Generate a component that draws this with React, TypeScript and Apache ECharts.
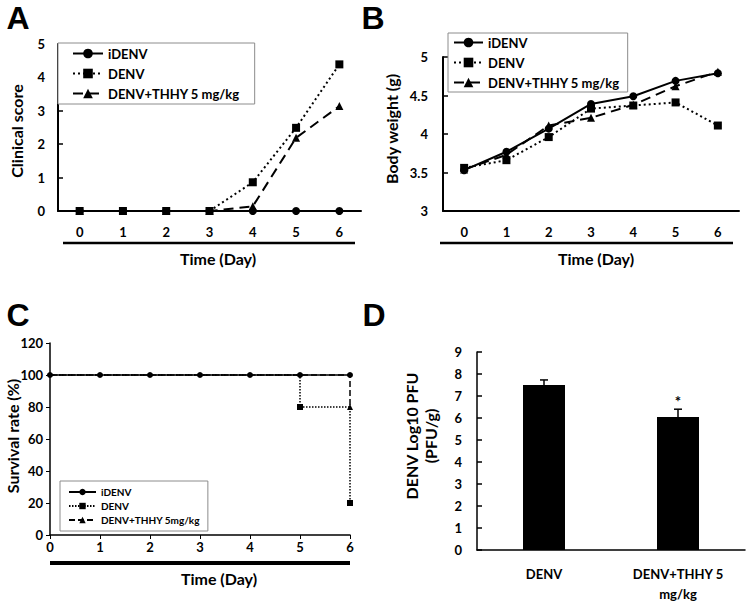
import React, { useEffect, useRef } from 'react';
import * as echarts from 'echarts';

// ---------- data ----------
const days = ['0', '1', '2', '3', '4', '5', '6'];
const groupNames = ['iDENV', 'DENV', 'DENV+THHY 5 mg/kg'];
const survivalGroupNames = ['iDENV', 'DENV', 'DENV+THHY 5mg/kg'];

const clinicalIDENV = [0, 0, 0, 0, 0, 0, 0];
const clinicalDENV = [0, 0, 0, 0, 0.86, 2.49, 4.39];
const clinicalTHHY = [0, 0, 0, 0, 0.14, 2.19, 3.14];

const weightIDENV = [3.53, 3.77, 4.07, 4.39, 4.49, 4.69, 4.79];
const weightDENV = [3.56, 3.66, 3.96, 4.33, 4.37, 4.41, 4.11];
const weightTHHY = [3.54, 3.73, 4.11, 4.21, 4.38, 4.62, 4.81];

const survivalIDENV = [100, 100, 100, 100, 100, 100, 100];
const survivalDENV = [100, 100, 100, 100, 100, 80, 20];
const survivalTHHY = [100, 100, 100, 100, 100, 100, 80];

const virusGroups = ['DENV', 'DENV+THHY 5\nmg/kg'];
const virusTiter = [7.5, 6.05];
const virusError = [0.23, 0.35];
const virusSignificance = ['', '*'];

// ---------- styles ----------
const FONT = 'Lato, "Liberation Sans", sans-serif';
const LETTER_FONT = 'bold 32px "Liberation Sans", Arial, sans-serif';
const BLACK = '#000';

const symbols = ['circle', 'rect', 'triangle'];
const bigLines = [
  { type: 'solid', width: 2 },
  { type: [2, 3], width: 2 },
  { type: [10, 6], width: 2 },
];
const smallLines = [
  { type: 'solid', width: 1.5 },
  { type: [1.5, 1.5], width: 1.5 },
  { type: [6, 3], width: 1.5 },
];

const axisLabel = (margin: number, extra: any = {}) => ({
  margin,
  fontSize: 13,
  fontWeight: 'bold',
  color: BLACK,
  fontFamily: FONT,
  ...extra,
});

const prefixed = (p: string, names: string[]) => names.map((n) => p + ':' + n);

function lineSeries(prefix: string, names: string[], values: number[][], idx: number, lines: any[], size: number, extra: any = {}, dataMap?: (v: number, i: number, s: number) => any) {
  // draw order: iDENV, THHY, DENV (DENV markers on top)
  const order = [0, 2, 1];
  return order.map((s) => ({
    type: 'line',
    name: prefix + ':' + names[s],
    xAxisIndex: idx,
    yAxisIndex: idx,
    data: dataMap ? values[s].map((v, i) => dataMap(v, i, s)) : values[s],
    symbol: symbols[s],
    symbolSize: size,
    showAllSymbol: true,
    itemStyle: { color: BLACK },
    lineStyle: { color: BLACK, ...lines[s] },
    ...extra,
  }));
}

const legendBase = (extra: any) => ({
  orient: 'vertical',
  align: 'left',
  borderColor: '#8c8c8c',
  borderWidth: 1,
  backgroundColor: '#fff',
  formatter: (name: string) => name.slice(2),
  textStyle: { color: BLACK, fontWeight: 'bold', fontFamily: FONT, fontSize: 13 },
  selectedMode: false,
  ...extra,
});

function buildOption(): any {
  const namesA = prefixed('A', groupNames);
  const namesB = prefixed('B', groupNames);
  const namesC = prefixed('C', survivalGroupNames);

  const graphicText = (text: string, x: number, y: number, font: string, rotation = 0) => ({
    type: 'text',
    x,
    y,
    rotation,
    style: { text, font, fill: BLACK, textAlign: 'center', textVerticalAlign: 'middle' },
  });
  const thickLine = (x1: number, x2: number, y: number, w: number) => ({
    type: 'line',
    shape: { x1, y1: y, x2, y2: y },
    style: { stroke: BLACK, lineWidth: w },
  });
  const titleFont = 'bold 16px ' + FONT;

  return {
    animation: false,
    backgroundColor: '#fff',
    grid: [
      { left: 58, top: 44, width: 303, height: 167 },
      { left: 443, top: 57, width: 296, height: 154 },
      { left: 50, top: 343, width: 300, height: 192 },
      { left: 477, top: 352, width: 268, height: 198 },
    ],
    xAxis: [
      {
        gridIndex: 0, type: 'category', data: days, boundaryGap: true,
        axisLine: { lineStyle: { color: BLACK, width: 2 } },
        axisTick: { inside: true, length: 5, lineStyle: { color: BLACK, width: 1.5 } },
        axisLabel: axisLabel(14),
      },
      {
        gridIndex: 1, type: 'category', data: days, boundaryGap: true,
        axisLine: { lineStyle: { color: BLACK, width: 2 } },
        axisTick: { inside: true, length: 5, lineStyle: { color: BLACK, width: 1.5 } },
        axisLabel: axisLabel(14),
      },
      {
        gridIndex: 2, type: 'category', data: days, boundaryGap: false,
        axisLine: { lineStyle: { color: BLACK, width: 1.5 } },
        axisTick: { inside: false, length: 4, lineStyle: { color: BLACK, width: 1 } },
        axisLabel: axisLabel(5),
      },
      {
        gridIndex: 3, type: 'category', data: virusGroups, boundaryGap: true,
        axisLine: { lineStyle: { color: BLACK, width: 1.5 } },
        axisTick: { inside: true, length: 5, lineStyle: { color: BLACK, width: 1.5 } },
        axisLabel: axisLabel(14, { lineHeight: 20 }),
      },
    ],
    yAxis: [
      {
        gridIndex: 0, type: 'value', min: 0, max: 5, interval: 1,
        axisLine: { show: true, lineStyle: { color: BLACK, width: 2 } },
        axisTick: { show: true, inside: true, length: 5, lineStyle: { color: BLACK, width: 1.5 } },
        splitLine: { show: false },
        axisLabel: axisLabel(13),
      },
      {
        gridIndex: 1, type: 'value', min: 3, max: 5, interval: 0.5,
        axisLine: { show: true, lineStyle: { color: BLACK, width: 2 } },
        axisTick: { show: true, inside: true, length: 5, lineStyle: { color: BLACK, width: 1.5 } },
        splitLine: { show: false },
        axisLabel: axisLabel(15),
      },
      {
        gridIndex: 2, type: 'value', min: 0, max: 120, interval: 20,
        axisLine: { show: true, lineStyle: { color: BLACK, width: 1.5 } },
        axisTick: { show: true, inside: false, length: 4, lineStyle: { color: BLACK, width: 1 } },
        splitLine: { show: false },
        axisLabel: axisLabel(7),
      },
      {
        gridIndex: 3, type: 'value', min: 0, max: 9, interval: 1,
        axisLine: { show: true, lineStyle: { color: BLACK, width: 1.5 } },
        axisTick: { show: true, inside: true, length: 5, lineStyle: { color: BLACK, width: 1.5 } },
        splitLine: { show: false },
        axisLabel: axisLabel(15),
      },
    ],
    legend: [
      legendBase({ left: 58, top: 43, data: namesA, itemWidth: 30, itemHeight: 12, itemGap: 7, padding: [4, 15, 4, 14] }),
      legendBase({ left: 448, top: 33, data: namesB, itemWidth: 29, itemHeight: 12, itemGap: 7, padding: [3, 8, 3, 5] }),
      legendBase({
        left: 60, top: 481, data: namesC, itemWidth: 27, itemHeight: 8, itemGap: 4, padding: [6, 8, 6, 8],
        textStyle: { color: BLACK, fontWeight: 'bold', fontFamily: FONT, fontSize: 10 },
      }),
    ],
    series: [
      ...lineSeries('A', groupNames, [clinicalIDENV, clinicalDENV, clinicalTHHY], 0, bigLines, 8),
      ...lineSeries('B', groupNames, [weightIDENV, weightDENV, weightTHHY], 1, bigLines, 8),
      ...lineSeries('C', survivalGroupNames, [survivalIDENV, survivalDENV, survivalTHHY], 2, smallLines, 6, { step: 'end' },
        (v, i, s) => (s !== 0 && v === survivalIDENV[i] ? { value: v, symbol: 'none' } : v)),
      {
        type: 'bar', name: 'titer', xAxisIndex: 3, yAxisIndex: 3, data: virusTiter,
        barWidth: 42, itemStyle: { color: BLACK },
      },
      {
        type: 'custom', name: 'error', xAxisIndex: 3, yAxisIndex: 3, z: 5,
        data: virusTiter.map((v, i) => [i, v, virusError[i]]),
        renderItem: (params: any, api: any) => {
          const i = api.value(0);
          const v = api.value(1);
          const e = api.value(2);
          const base = api.coord([i, v]);
          const top = api.coord([i, v + e]);
          const children: any[] = [
            { type: 'line', shape: { x1: base[0], y1: base[1], x2: top[0], y2: top[1] }, style: { stroke: BLACK, lineWidth: 1.5 } },
            { type: 'line', shape: { x1: top[0] - 4, y1: top[1], x2: top[0] + 4, y2: top[1] }, style: { stroke: BLACK, lineWidth: 1.5 } },
          ];
          const sig = virusSignificance[params.dataIndex];
          if (sig) {
            children.push({
              type: 'text', x: top[0], y: top[1] - 1,
              style: { text: sig, textAlign: 'center', textVerticalAlign: 'bottom', font: 'bold 15px ' + FONT, fill: BLACK },
            });
          }
          return { type: 'group', children };
        },
      },
    ],
    graphic: [
      graphicText('A', 18, 18, LETTER_FONT),
      graphicText('B', 373, 18, LETTER_FONT),
      graphicText('C', 18, 315, LETTER_FONT),
      graphicText('D', 374, 315, LETTER_FONT),
      thickLine(63, 355, 243, 2.5),
      thickLine(440, 733, 243, 2.5),
      thickLine(50, 350, 563, 4),
      graphicText('Time (Day)', 218, 258, titleFont),
      graphicText('Time (Day)', 596, 258, titleFont),
      graphicText('Time (Day)', 219, 578, titleFont),
      graphicText('Clinical score', 16, 131, titleFont, Math.PI / 2),
      graphicText('Body weight (g)', 391, 129, titleFont, Math.PI / 2),
      graphicText('Survival rate (%)', 12, 436, titleFont, Math.PI / 2),
      graphicText('DENV Log10 PFU', 411, 436, titleFont, Math.PI / 2),
      graphicText('(PFU/g)', 430, 436, titleFont, Math.PI / 2),
    ],
  };
}

export default function App() {
  const ref = useRef<HTMLDivElement>(null);
  useEffect(() => {
    if (!ref.current) return;
    const chart = echarts.init(ref.current, undefined, { renderer: 'svg' });
    chart.setOption(buildOption());
    return () => chart.dispose();
  }, []);
  return (
    <div
      ref={ref}
      style={{ position: 'absolute', left: 0, top: 0, width: 750, height: 605, background: '#fff' }}
    />
  );
}
